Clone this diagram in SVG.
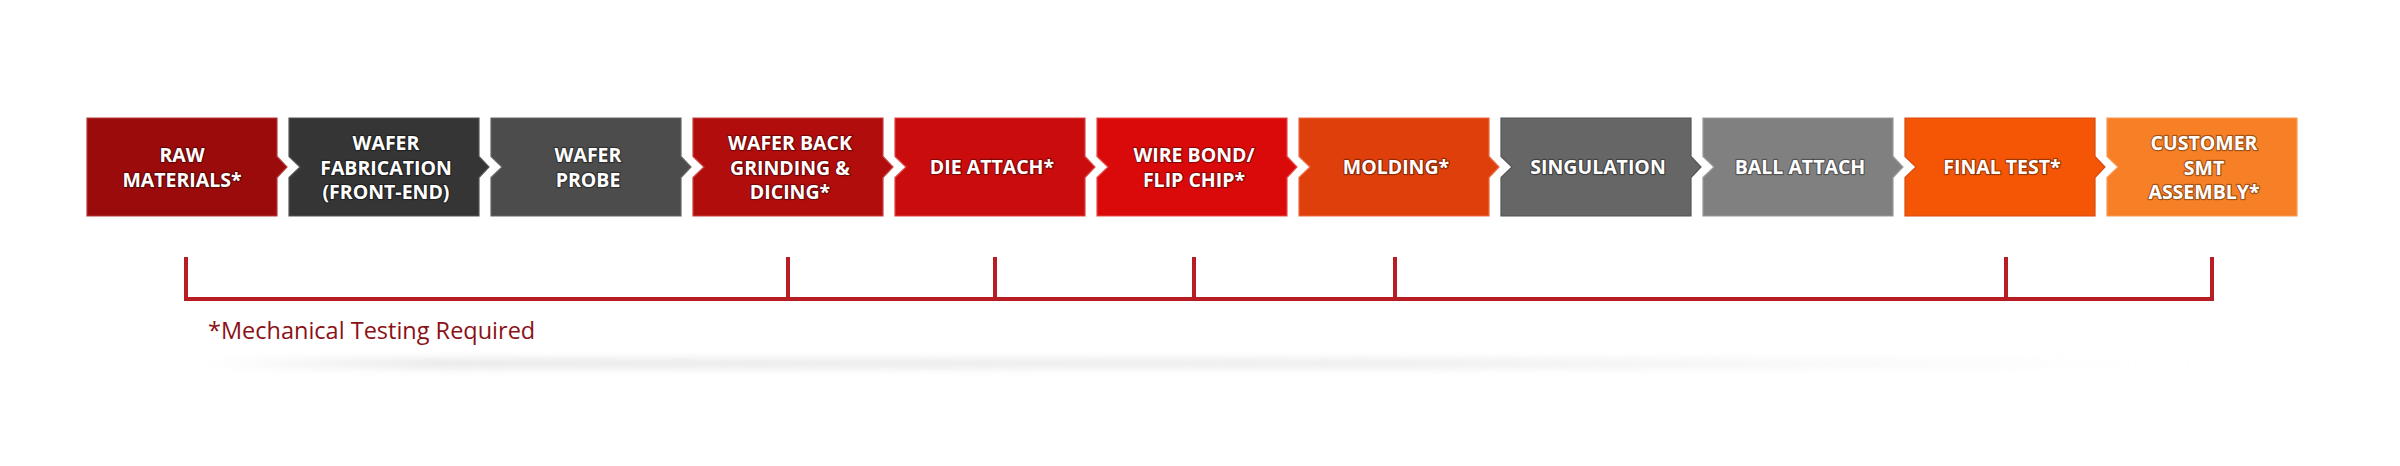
<svg xmlns="http://www.w3.org/2000/svg" width="2400" height="466" viewBox="0 0 2400 466">
<defs>
<filter id="blur" x="-10%" y="-300%" width="120%" height="700%"><feGaussianBlur stdDeviation="4"/></filter>
<linearGradient id="shadowGrad" x1="0" y1="0" x2="1" y2="0">
<stop offset="0" stop-color="#dcdcdc" stop-opacity="0"/>
<stop offset="0.12" stop-color="#dcdcdc" stop-opacity="0.75"/>
<stop offset="0.6" stop-color="#e0e0e0" stop-opacity="0.65"/>
<stop offset="1" stop-color="#e8e8e8" stop-opacity="0"/>
</linearGradient>
</defs>
<style>
.lbl{font-family:"Open Sans","Liberation Sans",sans-serif;font-weight:700;font-size:19.5px;fill:#ffffff;text-anchor:middle;stroke:rgba(0,0,0,0.35);stroke-width:2.5px;paint-order:stroke;stroke-linejoin:round}
.box{stroke-width:1.2}
.br{fill:none;stroke:#b71d23;stroke-width:4;stroke-linejoin:miter}
.note{font-family:"Open Sans","Liberation Sans",sans-serif;font-size:23.5px;fill:#8a1116}
</style>
<rect width="2400" height="466" fill="#ffffff"/>
<rect x="200" y="359" width="1990" height="9" fill="url(#shadowGrad)" filter="url(#blur)"/>

<g id="n1"><path class="box" fill="#9b0b0b" stroke="#b53a3a" d="M87,118H277V156.5L287,167L277,177.5V216H87Z"/>
<text class="lbl" x="182" y="162">RAW</text><text class="lbl" x="182" y="186.5">MATERIALS*</text></g>

<g id="n2"><path class="box" fill="#353535" stroke="#555" d="M289,118H479V156.5L489,167L479,177.5V216H289V177.5L300,167L289,156.5Z"/>
<text class="lbl" x="386" y="150">WAFER</text><text class="lbl" x="386" y="174.5">FABRICATION</text><text class="lbl" x="386" y="199">(FRONT-END)</text></g>

<g id="n3"><path class="box" fill="#4c4c4c" stroke="#666" d="M491,118H681V156.5L691,167L681,177.5V216H491V177.5L502,167L491,156.5Z"/>
<text class="lbl" x="588" y="162">WAFER</text><text class="lbl" x="588" y="186.5">PROBE</text></g>

<g id="n4"><path class="box" fill="#b20d0d" stroke="#c84040" d="M693,118H883V156.5L893,167L883,177.5V216H693V177.5L704,167L693,156.5Z"/>
<text class="lbl" x="790" y="150">WAFER BACK</text><text class="lbl" x="790" y="174.5">GRINDING &amp;</text><text class="lbl" x="790" y="199">DICING*</text></g>

<g id="n5"><path class="box" fill="#cb0c0c" stroke="#dd4545" d="M895,118H1085V156.5L1095,167L1085,177.5V216H895V177.5L906,167L895,156.5Z"/>
<text class="lbl" x="992" y="174">DIE ATTACH*</text></g>

<g id="n6"><path class="box" fill="#db0a0a" stroke="#e84848" d="M1097,118H1287V156.5L1297,167L1287,177.5V216H1097V177.5L1108,167L1097,156.5Z"/>
<text class="lbl" x="1194" y="162">WIRE BOND/</text><text class="lbl" x="1194" y="186.5">FLIP CHIP*</text></g>

<g id="n7"><path class="box" fill="#df3f0b" stroke="#ea6a40" d="M1299,118H1489V156.5L1499,167L1489,177.5V216H1299V177.5L1310,167L1299,156.5Z"/>
<text class="lbl" x="1396" y="174">MOLDING*</text></g>

<g id="n8"><path class="box" fill="#666666" stroke="#555" d="M1501,118H1691V156.5L1701,167L1691,177.5V216H1501V177.5L1512,167L1501,156.5Z"/>
<text class="lbl" x="1598" y="174">SINGULATION</text></g>

<g id="n9"><path class="box" fill="#808080" stroke="#999" d="M1703,118H1893V156.5L1903,167L1893,177.5V216H1703V177.5L1714,167L1703,156.5Z"/>
<text class="lbl" x="1800" y="174">BALL ATTACH</text></g>

<g id="n10"><path class="box" fill="#f45606" stroke="#d84a10" d="M1905,118H2095V156.5L2105,167L2095,177.5V216H1905V177.5L1916,167L1905,156.5Z"/>
<text class="lbl" x="2002" y="174">FINAL TEST*</text></g>

<g id="n11"><path class="box" fill="#f77f25" stroke="#f99a55" d="M2107,118H2297V216H2107V177.5L2118,167L2107,156.5Z"/>
<text class="lbl" x="2204" y="150">CUSTOMER</text><text class="lbl" x="2204" y="174.5">SMT</text><text class="lbl" x="2204" y="199">ASSEMBLY*</text></g>

<g id="connectors">
<path class="br" d="M186,257V299H2212V257"/>
<path class="br" d="M788,257V299M995,257V299M1194,257V299M1395,257V299M2006,257V299"/>
</g>
<text class="note" x="208" y="339">*Mechanical Testing Required</text>
</svg>
